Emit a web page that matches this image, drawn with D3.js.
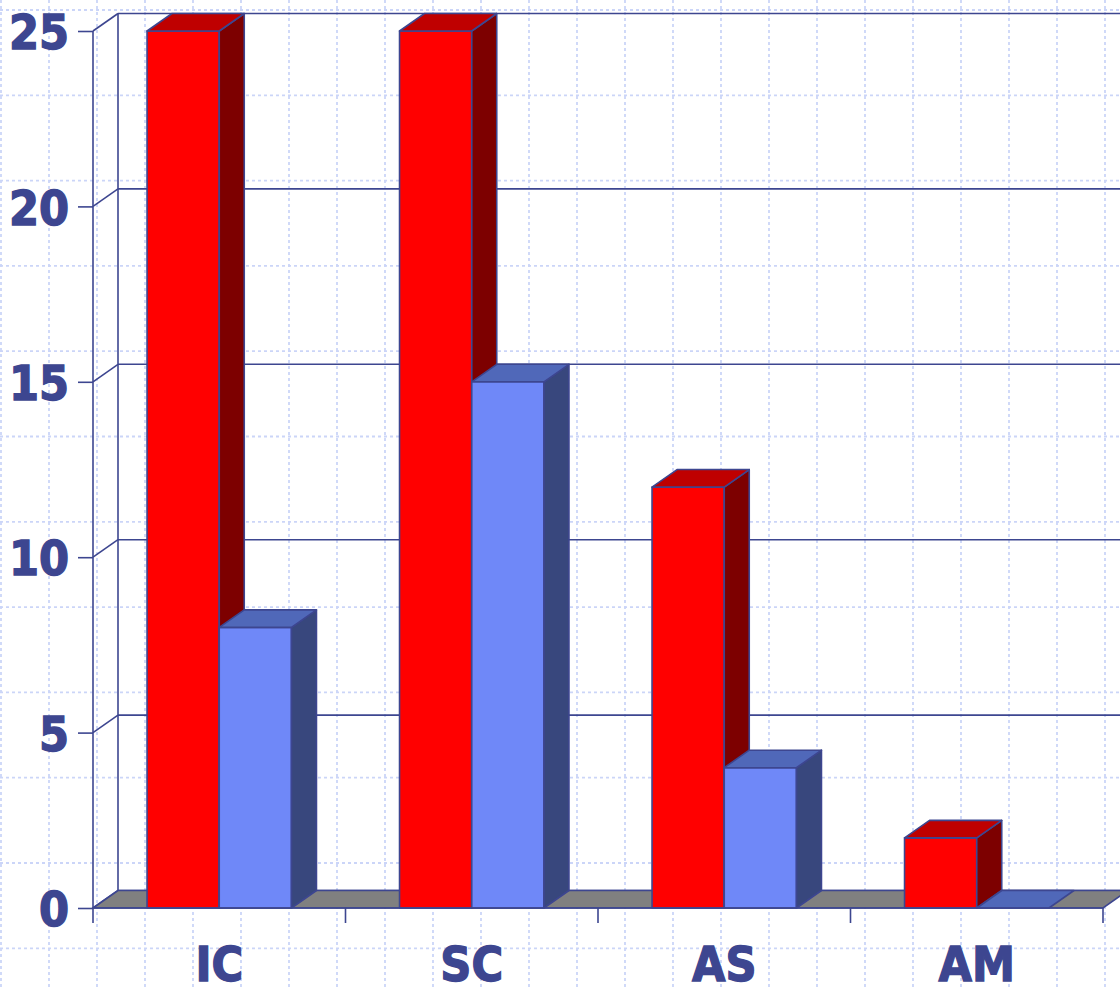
<!DOCTYPE html>
<html>
<head>
<meta charset="utf-8">
<script src="https://cdn.jsdelivr.net/npm/d3@7/dist/d3.min.js"></script>
<style>
  html, body { margin: 0; padding: 0; background: #ffffff; }
  svg { display: block; }
</style>
</head>
<body>
<svg id="chart" width="1120" height="987"></svg>
<script>
// Chart data
const categories = ["IC", "SC", "AS", "AM"];
const seriesNames = ["red", "blue"];
const redValues = [25, 25, 12, 2];
const blueValues = [8, 15, 4, 0];
const yTickValues = [0, 5, 10, 15, 20, 25];

const W = 1120, H = 987;
const ink = "#3d4690";
const font = "'DejaVu Sans Condensed', 'DejaVu Sans', sans-serif";

// Face colours per series: front, top, side
const faces = {
  red:  { front: "#ff0000", top: "#bf0000", side: "#7d0000" },
  blue: { front: "#6f88f8", top: "#5068b9", side: "#38477d" }
};

// Oblique depth offset used for walls, floor and bars
const DX = 25, DY = -17.5;

const svg = d3.select("#chart");

// Dotted background grid
const bg = svg.append("g").attr("stroke", "#cbd5f8").attr("stroke-width", 1.8).attr("stroke-dasharray", "3,3");
d3.range(1, W, 48).forEach(x => {
  bg.append("line").attr("x1", x).attr("x2", x).attr("y1", 0).attr("y2", H);
});
d3.range(0, 12).map(i => 10 + i * 85.3).forEach(y => {
  bg.append("line").attr("x1", 0).attr("x2", W).attr("y1", y).attr("y2", y);
});

const x = d3.scaleBand().domain(categories).range([93, 1103]).padding(0);
const bw = x.bandwidth();
const xs = d3.scaleBand().domain(seriesNames).range([bw * 0.214, bw * 0.786]).padding(0);
const y = d3.scaleLinear().domain([0, 25]).range([908, 31]);

const x0 = x.range()[0], x1 = x.range()[1];

// Back wall gridlines and side-wall connectors
const wall = svg.append("g").attr("stroke", ink).attr("stroke-width", 1.6).attr("fill", "none");
yTickValues.forEach(v => {
  wall.append("line").attr("x1", x0 + DX).attr("x2", x1 + DX + 40)
    .attr("y1", y(v) + DY).attr("y2", y(v) + DY);
  wall.append("line").attr("x1", x0).attr("x2", x0 + DX)
    .attr("y1", y(v)).attr("y2", y(v) + DY);
});
wall.append("line").attr("x1", x0 + DX).attr("x2", x0 + DX)
  .attr("y1", y(0) + DY).attr("y2", y(25) + DY);

// Floor
svg.append("path")
  .attr("d", `M${x0},${y(0)} L${x1},${y(0)} L${x1 + DX},${y(0) + DY} L${x0 + DX},${y(0) + DY} Z`)
  .attr("fill", "#808080").attr("stroke", ink).attr("stroke-width", 1.6);

// Bars drawn as oblique boxes
const rows = [];
categories.forEach((c, i) => {
  rows.push({ cat: c, series: "red", value: redValues[i] });
  rows.push({ cat: c, series: "blue", value: blueValues[i] });
});

const barG = svg.append("g").attr("stroke", ink).attr("stroke-width", 1.6).attr("stroke-linejoin", "round");
rows.forEach(d => {
  const l = x(d.cat) + xs(d.series);
  const r = l + xs.bandwidth();
  const t = y(d.value), b = y(0);
  const g = barG.append("g");
  if (b - t > 0.5) {
    g.append("path").attr("d", `M${l},${t} L${r},${t} L${r},${b} L${l},${b} Z`)
      .attr("fill", faces[d.series].front);
    g.append("path").attr("d", `M${r},${t} L${r + DX},${t + DY} L${r + DX},${b + DY} L${r},${b} Z`)
      .attr("fill", faces[d.series].side);
  }
  g.append("path").attr("d", `M${l},${t} L${r},${t} L${r + DX},${t + DY} L${l + DX},${t + DY} Z`)
    .attr("fill", faces[d.series].top);
});

// Value axis
const yAxis = d3.axisLeft(y).tickValues(yTickValues).tickSize(15).tickPadding(9).tickFormat(d3.format("d"));
const ya = svg.append("g").attr("transform", `translate(${x0},0)`).call(yAxis);
ya.select(".domain").attr("stroke", ink).attr("stroke-width", 1.6).attr("d", `M0,${y(0)}V${y(25)}`);
ya.selectAll(".tick line").attr("stroke", ink).attr("stroke-width", 1.6);
ya.selectAll(".tick text").attr("fill", ink).attr("stroke", ink).attr("stroke-width", 1.3)
  .attr("font-family", font).attr("font-weight", "bold").attr("font-size", 48).attr("dy", "0.37em");

// Category axis: ticks at band boundaries, labels centred in bands
const xa = svg.append("g");
xa.append("line").attr("x1", x0).attr("x2", x1).attr("y1", y(0)).attr("y2", y(0))
  .attr("stroke", ink).attr("stroke-width", 1.6);
categories.map(c => x(c)).concat([x1]).forEach(px => {
  xa.append("line").attr("x1", px).attr("x2", px).attr("y1", y(0)).attr("y2", y(0) + 15)
    .attr("stroke", ink).attr("stroke-width", 1.6);
});
xa.selectAll("text.cat").data(categories).join("text").attr("class", "cat")
  .attr("x", d => x(d) + bw / 2).attr("y", 981)
  .attr("text-anchor", "middle").attr("fill", ink).attr("stroke", ink).attr("stroke-width", 1.3)
  .attr("font-family", font).attr("font-weight", "bold").attr("font-size", 48).text(d => d);
</script>
</body>
</html>
